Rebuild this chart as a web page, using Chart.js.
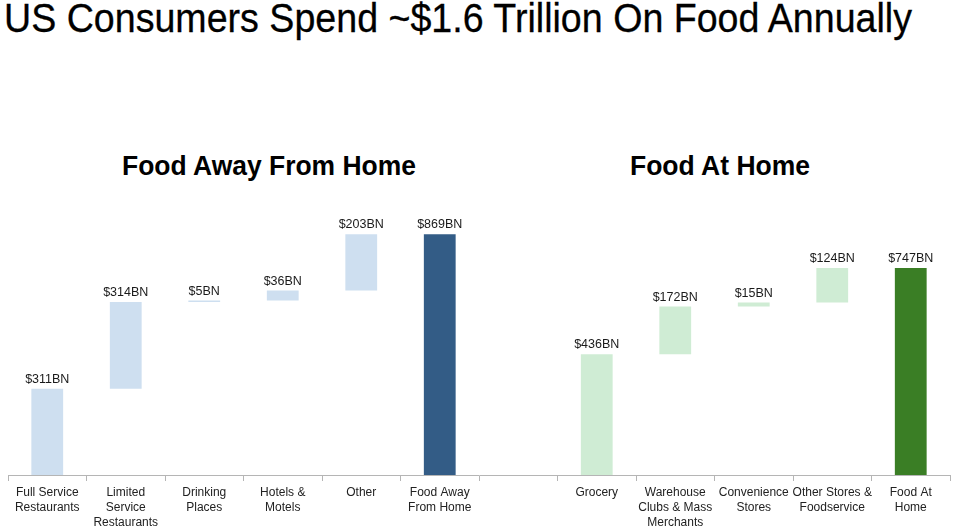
<!DOCTYPE html>
<html>
<head>
<meta charset="utf-8">
<script src="https://cdn.jsdelivr.net/npm/chart.js@4"></script>
<style>
  html, body { margin: 0; padding: 0; background: #fff; }
  #wrap { position: relative; width: 959px; height: 531px; overflow: hidden; }
  #title { position: absolute; left: 4px; top: -4px; font-family: "Liberation Sans Narrow", "Liberation Sans", Arial, sans-serif; font-size: 40px; color: #000; white-space: nowrap; transform-origin: 0 0; -webkit-text-stroke: 0.3px #000; }
  .sub { position: absolute; top: 151px; font-family: "Liberation Sans", Arial, sans-serif; font-weight: bold; font-size: 27px; color: #000; white-space: nowrap; transform-origin: 0 0; }
  canvas { position: absolute; left: 0; top: 0; }
</style>
</head>
<body>
<div id="wrap">
  <div id="title">US Consumers Spend ~$1.6 Trillion On Food Annually</div>
  <div class="sub" id="sub1">Food Away From Home</div>
  <div class="sub" id="sub2">Food At Home</div>
  <canvas id="c" width="959" height="534"></canvas>
</div>
<script>
const categories = [
  ["Full Service", "Restaurants"],
  ["Limited", "Service", "Restaurants"],
  ["Drinking", "Places"],
  ["Hotels &", "Motels"],
  "Other",
  ["Food Away", "From Home"],
  "",
  "Grocery",
  ["Warehouse", "Clubs & Mass", "Merchants"],
  ["Convenience", "Stores"],
  ["Other Stores &", "Foodservice"],
  ["Food At", "Home"]
];
// increments (null = empty slot); totals flagged separately
const values = [311, 314, 5, 36, 203, 869, null, 436, 172, 15, 124, 747];
const isTotal = [false, false, false, false, false, true, false, false, false, false, false, true];
const group = [0, 0, 0, 0, 0, 0, -1, 1, 1, 1, 1, 1];
const valueLabels = ["$311BN", "$314BN", "$5BN", "$36BN", "$203BN", "$869BN", "", "$436BN", "$172BN", "$15BN", "$124BN", "$747BN"];

const stepColors = ["#cedff0", "#cfecd4"];
const totalColors = ["#335c86", "#3a7e25"];

// build floating ranges from the increments
const ranges = [];
const colors = [];
let run = 0, lastGroup = null;
for (let i = 0; i < values.length; i++) {
  const v = values[i];
  if (v === null) { ranges.push(null); colors.push("rgba(0,0,0,0)"); continue; }
  if (group[i] !== lastGroup) { run = 0; lastGroup = group[i]; }
  if (isTotal[i]) {
    ranges.push([0, v]);
    colors.push(totalColors[group[i]]);
    run = 0;
  } else {
    ranges.push([run, run + v]);
    colors.push(stepColors[group[i]]);
    run += v;
  }
}

const valueLabelPlugin = {
  id: "valueLabels",
  afterDatasetsDraw(chart) {
    const ctx = chart.ctx;
    const meta = chart.getDatasetMeta(0);
    ctx.save();
    ctx.font = "12.5px 'Liberation Sans', Arial, sans-serif";
    ctx.fillStyle = "#1a1a1a";
    ctx.textAlign = "center";
    ctx.textBaseline = "bottom";
    meta.data.forEach((bar, i) => {
      if (!valueLabels[i]) return;
      const top = Math.min(bar.y, bar.base);
      ctx.fillText(valueLabels[i], bar.x, top - 3);
    });
    ctx.restore();
  }
};

new Chart(document.getElementById("c"), {
  type: "bar",
  data: {
    labels: categories,
    datasets: [{
      data: ranges,
      backgroundColor: colors,
      borderWidth: 0,
      barPercentage: 0.405,
      categoryPercentage: 1.0
    }]
  },
  options: {
    responsive: false,
    animation: false,
    devicePixelRatio: 1,
    layout: { padding: { top: 198, left: 8, right: 9, bottom: 0 } },
    plugins: { legend: { display: false }, tooltip: { enabled: false } },
    scales: {
      x: {
        offset: true,
        grid: { offset: true, drawOnChartArea: false, drawTicks: true, tickLength: 6, color: "#b5b5b5" },
        border: { display: true, color: "#b5b5b5", width: 1 },
        ticks: {
          autoSkip: false, maxRotation: 0, minRotation: 0,
          color: "#222", padding: 4,
          font: { family: "'Liberation Sans', Arial, sans-serif", size: 12, lineHeight: 1.25 }
        }
      },
      y: {
        display: false,
        min: 0,
        max: 1000
      }
    }
  },
  plugins: [valueLabelPlugin]
});

function fitWidth(id, left, width) {
  const el = document.getElementById(id);
  el.style.left = left + "px";
  const w = el.getBoundingClientRect().width;
  el.style.transform = "scaleX(" + (width / w) + ")";
}
fitWidth("title", 4, 908);
fitWidth("sub1", 122, 294);
fitWidth("sub2", 630, 180);
</script>
</body>
</html>
